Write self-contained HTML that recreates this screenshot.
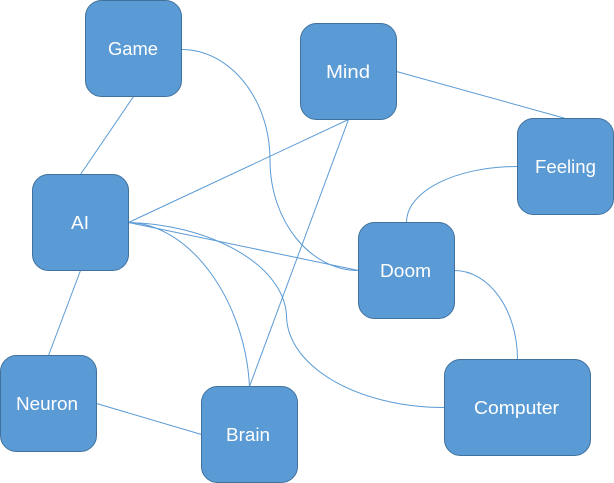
<!DOCTYPE html>
<html>
<head>
<meta charset="utf-8">
<style>
html,body{margin:0;padding:0;background:#fff;width:614px;height:483px;overflow:hidden}
svg{display:block}
text{font-family:"Liberation Sans",sans-serif;font-size:18px;fill:#fff}
</style>
</head>
<body>
<svg width="614" height="483" viewBox="0 0 614 483" xmlns="http://www.w3.org/2000/svg">
<g fill="none" stroke="#5B9BD5" stroke-width="1">
<path d="M133.5 96.5L80.5 174.5"/>
<path d="M80.5 270.5L48.5 355.5"/>
<path d="M96.5 403.5L201.5 434.5"/>
<path d="M128.5 222.5L348.5 119.5"/>
<path d="M128.5 222.5L358.5 270.5"/>
<path d="M348.5 119.5L249.5 386.5"/>
<path d="M396.5 71.5L565.5 118.5"/>
<path d="M181.5 49.5C230 49.5 270 99 270 160C270 221 310 270.5 358.5 270.5"/>
<path d="M128.5 222.5C190 224 245 300 249.5 386.5"/>
<path d="M128.5 222.5C205 224 283 262 286.5 315C286.5 366 357 407.5 444.5 407.5"/>
<path d="M517.5 166.5C456 166.5 406.5 191 406.5 222.5"/>
<path d="M454.5 270.5C489 270.5 517.5 310 517.5 359.5"/>
</g>
<g fill="#5B9BD5" stroke="#41719C" stroke-width="1">
<rect x="85.5" y="0.5" width="96" height="96" rx="16"/>
<rect x="300.5" y="23.5" width="96" height="96" rx="16"/>
<rect x="517.5" y="118.5" width="96" height="96" rx="16"/>
<rect x="32.5" y="174.5" width="96" height="96" rx="16"/>
<rect x="358.5" y="222.5" width="96" height="96" rx="16"/>
<rect x="0.5" y="355.5" width="96" height="96" rx="16"/>
<rect x="201.5" y="386.5" width="96" height="96" rx="16"/>
<rect x="444.5" y="359.5" width="146" height="96" rx="16"/>
</g>
<text x="108" y="55" textLength="50" lengthAdjust="spacingAndGlyphs">Game</text>
<text x="326" y="78" textLength="44" lengthAdjust="spacingAndGlyphs">Mind</text>
<text x="535" y="173" textLength="61" lengthAdjust="spacingAndGlyphs">Feeling</text>
<text x="71" y="229" textLength="18" lengthAdjust="spacingAndGlyphs">AI</text>
<text x="380" y="277" textLength="51" lengthAdjust="spacingAndGlyphs">Doom</text>
<text x="16" y="410" textLength="62" lengthAdjust="spacingAndGlyphs">Neuron</text>
<text x="226" y="441" textLength="44" lengthAdjust="spacingAndGlyphs">Brain</text>
<text x="474" y="414" textLength="85" lengthAdjust="spacingAndGlyphs">Computer</text>
</svg>
</body>
</html>
